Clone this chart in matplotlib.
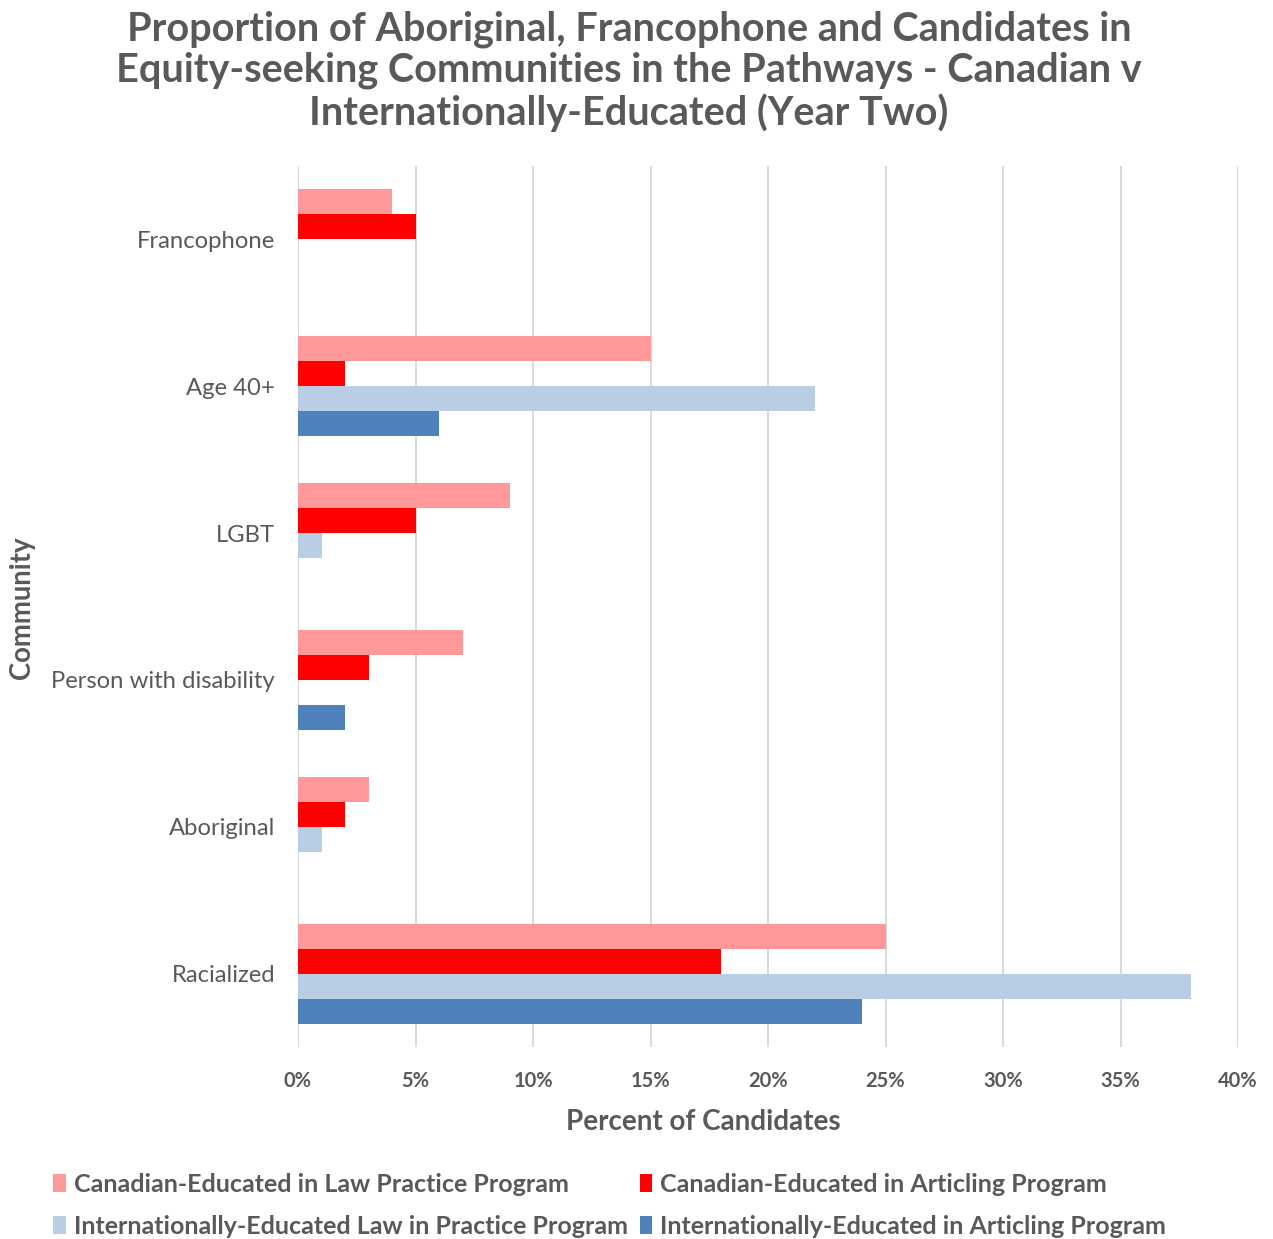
import matplotlib
matplotlib.use("Agg")
import matplotlib.pyplot as plt
from matplotlib.patches import Patch
import numpy as np

plt.rcParams['font.family'] = ['Lato', 'DejaVu Sans']

communities = ["Francophone", "Age 40+", "LGBT", "Person with disability", "Aboriginal", "Racialized"]
series_names = [
    "Canadian-Educated in Law Practice Program",
    "Canadian-Educated in Articling Program",
    "Internationally-Educated Law in Practice Program",
    "Internationally-Educated in Articling Program",
]
ce_lpp = [4, 15, 9, 7, 3, 25]
ce_art = [5, 2, 5, 3, 2, 18]
ie_lpp = [0, 22, 1, 0, 1, 38]
ie_art = [0, 6, 0, 2, 0, 24]
colors = ["#FF9999", "#FF0000", "#B9CDE5", "#4F81BD"]
x_ticks = [0, 5, 10, 15, 20, 25, 30, 35, 40]

text_color = "#595959"

fig = plt.figure(figsize=(12.73, 12.39), dpi=100)
ax = fig.add_axes([298 / 1273, 1 - 1047 / 1239, 940 / 1273, 881 / 1239])

y = np.arange(len(communities))
h = 0.17
all_series = [ce_lpp, ce_art, ie_lpp, ie_art]
for j, (vals, col) in enumerate(zip(all_series, colors)):
    ax.barh(y + (j - 1.5) * h, vals, height=h, color=col, zorder=3)

ax.set_ylim(5.5, -0.5)
ax.set_xlim(0, 40)
ax.set_xticks(x_ticks)
ax.set_xticklabels([f"{t}%" for t in x_ticks], fontsize=14.5, fontweight='bold', color=text_color)
ax.set_yticks(y)
ax.set_yticklabels(communities, fontsize=17.2, color=text_color)
ax.tick_params(axis='both', length=0)
ax.tick_params(axis='x', pad=17)
ax.tick_params(axis='y', pad=16.5)
ax.grid(axis='x', color="#D9D9D9", linewidth=1.4, zorder=0)
for s in ax.spines.values():
    s.set_visible(False)

fig.text(703 / 1273, 1 - 1122 / 1239, "Percent of Candidates", ha='center', va='center',
         fontsize=20, fontweight='bold', color=text_color)
fig.text(22 / 1273, 1 - 608 / 1239, "Community", rotation=90, ha='center', va='center',
         fontsize=19.8, fontweight='bold', color=text_color)

title = ("Proportion of Aboriginal, Francophone and Candidates in\n"
         "Equity-seeking Communities in the Pathways - Canadian v\n"
         "Internationally-Educated (Year Two)")
fig.text(629 / 1273, 1 - 71 / 1239, title, ha='center', va='center', fontsize=28.5, fontweight='bold',
         color=text_color, linespacing=1.13)

handles = [Patch(facecolor=c, edgecolor='none') for c in colors]
order = [0, 2, 1, 3]
leg = fig.legend([handles[i] for i in order], [series_names[i] for i in order],
                 loc='upper left', bbox_to_anchor=(41 / 1273, 1 - 1160 / 1239), ncol=2,
                 frameon=False, fontsize=18, handlelength=0.5, handleheight=0.75,
                 handletextpad=0.3, columnspacing=0.48, labelspacing=0.78, borderpad=0)
for t in leg.get_texts():
    t.set_color(text_color)
    t.set_fontweight('bold')

fig.savefig("out.png", dpi=100, facecolor="white")
